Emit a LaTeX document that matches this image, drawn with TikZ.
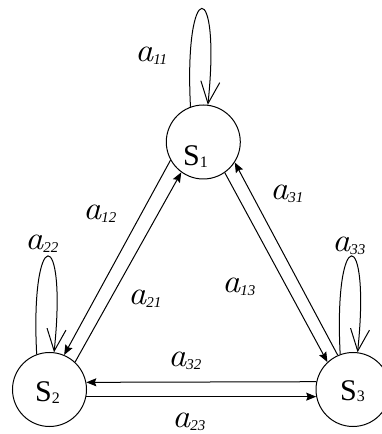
\documentclass[tikz,border=0pt]{standalone}
\usepackage{fontspec}
\usepackage{graphicx}
\setmainfont{Liberation Serif}
\newfontfamily\lmfont{Latin Modern Roman}
\usetikzlibrary{arrows.meta}
\newcommand\alab[1]{\scalebox{1.1}[1]{\fontsize{33}{36}\lmfont\itshape a}\raisebox{-2.5pt}{\fontsize{15}{16}\selectfont\itshape #1}}
\newcommand\slab[1]{{\fontsize{30}{34}\selectfont S}\raisebox{-2pt}{\fontsize{16}{18}\selectfont #1}}
\tikzset{
  state/.style={circle,draw,line width=1pt,minimum size=74pt,inner sep=0pt},
  txt/.style={anchor=base west,inner sep=0pt},
  edge/.style={line width=1pt,-{Stealth[length=10pt,width=8pt,inset=1.5pt]}},
  selfloop/.style={line width=1pt,-{Straight Barb[length=22pt,width=19pt,line width=1pt]}}
}
\begin{document}
\begin{tikzpicture}[x=1pt,y=1pt]
\useasboundingbox[fill=white] (0,0) rectangle (382,434);
\node[state] (S1) at (203.3,292) {};
\node[state] (S2) at (49.5,44.5) {};
\node[state] (S3) at (353,44.5) {};
\node[txt] (S1t) at (183,268) {\slab{1}};
\node[txt] (S2t) at (35,32) {\slab{2}};
\node[txt] (S3t) at (340,34) {\slab{3}};
% self loops
\draw[selfloop] (S1.110) .. controls +(93:130pt) and +(84:130pt) .. (S1.83);
\draw[selfloop] (S2.110) .. controls +(93:130pt) and +(84:130pt) .. (S2.83);
\draw[selfloop] (S3.110) .. controls +(93:130pt) and +(84:130pt) .. (S3.83);
% transitions
\draw[edge] (S1.209) -- (S2.67.5);
\draw[edge] (S2.47.3) -- (S1.234);
\draw[edge] (S3.114.9) -- (S1.327.5);
\draw[edge] (S1.305.3) -- (S3.133.1);
\draw[edge] (S3.168.3) -- (S2.11.7);
\draw[edge] (S2.-11.7) -- (S3.191.7);
% labels
\node[txt] (l11) at (135,372) {\alab{11}};
\node[txt] (l12) at (83,214) {\alab{12}};
\node[txt] (l21) at (128,129) {\alab{21}};
\node[txt] (l22) at (25,184) {\alab{22}};
\node[txt] (l13) at (222,141) {\alab{13}};
\node[txt] (l31) at (270,234) {\alab{31}};
\node[txt] (l33) at (332,182) {\alab{33}};
\node[txt] (l32) at (168,67) {\alab{32}};
\node[txt] (l23) at (172,6) {\alab{23}};
\end{tikzpicture}
\end{document}
